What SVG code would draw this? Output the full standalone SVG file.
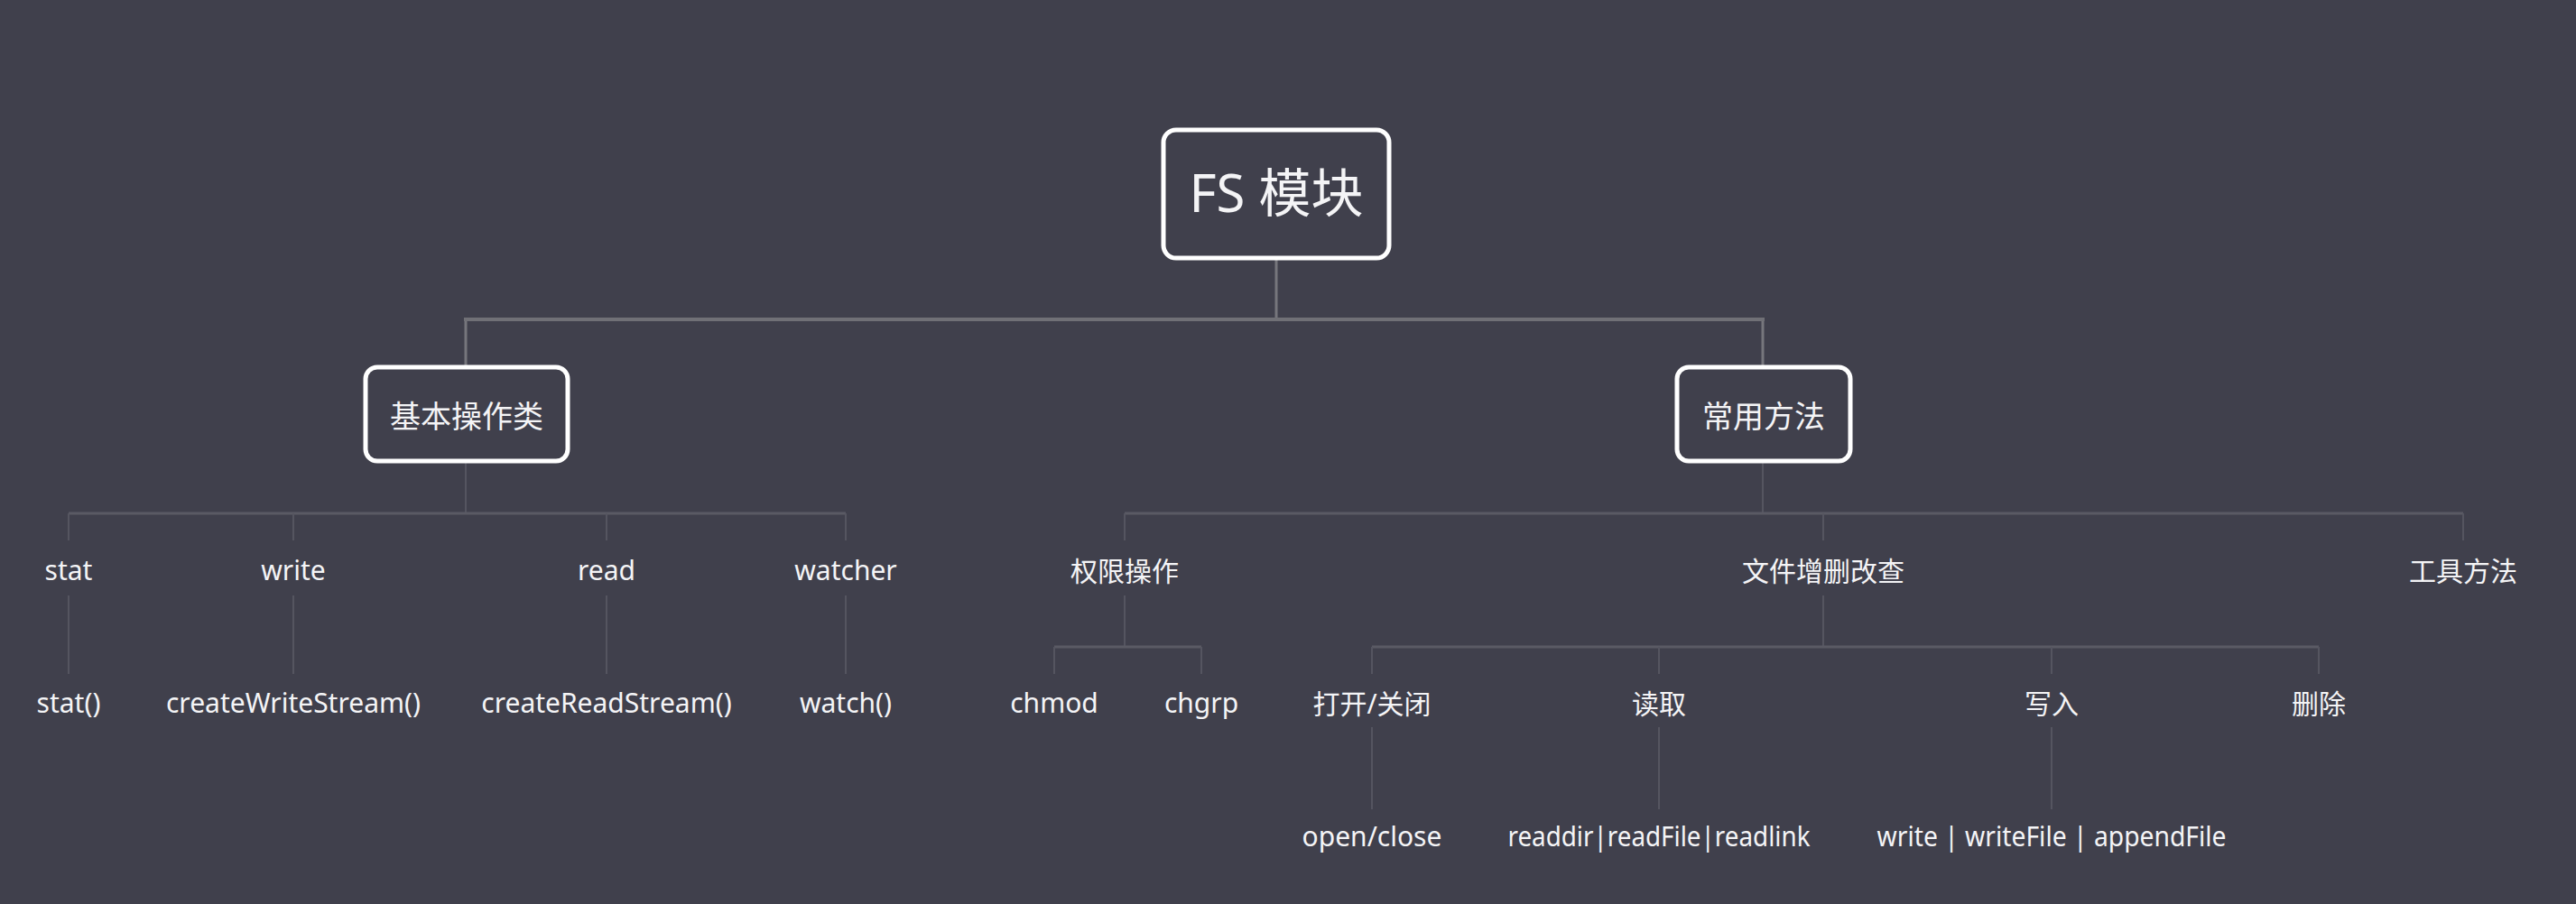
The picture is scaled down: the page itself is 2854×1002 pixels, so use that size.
<svg xmlns="http://www.w3.org/2000/svg" width="2854" height="1002" viewBox="0 0 2854 1002">
<style>
.t{font-family:"Noto Sans","Noto Sans CJK SC",sans-serif;fill:#f4f4f6;text-anchor:middle}
.l2{font-size:30px}
.box{fill:#40404c;stroke:#ffffff;stroke-width:5}
.c1{stroke:#707076;stroke-width:4;fill:none}
.c1v{stroke:#76767c;stroke-width:3;fill:none}
.c2{stroke:#5a5a64;stroke-width:3;fill:none}
.c3{stroke:#555560;stroke-width:2;fill:none}
</style>
<rect width="2854" height="1002" fill="#40404c"/>
<g id="connectors">
<path class="c1v" d="M1414 287V354M516 354V405M1953 354V405"/>
<path class="c1" d="M514 354H1955"/>
<path class="c3" d="M516 512V569M1953 512V569"/>
<path class="c2" d="M76 569H937M1246 569H2729"/>
<path class="c3" d="M76 569V599M325 569V599M672 569V599M937 569V599M1246 569V599M2020 569V599M2729 569V599"/>
<path class="c3" d="M76 660V747M325 660V747M672 660V747M937 660V747"/>
<path class="c3" d="M1246 660V717M2020 660V717"/>
<path class="c2" d="M1168 717H1331M1520 717H2569"/>
<path class="c3" d="M1168 717V747M1331 717V747M1520 717V747M1838 717V747M2273 717V747M2569 717V747"/>
<path class="c3" d="M1520 806V897M1838 806V897M2273 806V897"/>
</g>
<g id="n-fs"><rect class="box" x="1289" y="144" width="250" height="142" rx="14"/><text class="t" x="1414" y="235" font-size="58">FS 模块</text></g>
<g id="n-basic"><rect class="box" x="405" y="407" width="224" height="104" rx="13"/><text class="t" x="517" y="474" font-size="34">基本操作类</text></g>
<g id="n-common"><rect class="box" x="1858" y="407" width="192" height="104" rx="13"/><text class="t" x="1954" y="474" font-size="34">常用方法</text></g>
<g id="n-stat"><text class="t l2" x="76" y="643">stat</text></g>
<g id="n-write"><text class="t l2" x="325" y="643">write</text></g>
<g id="n-read"><text class="t l2" x="672" y="643">read</text></g>
<g id="n-watcher"><text class="t l2" x="937" y="643">watcher</text></g>
<g id="n-perm"><text class="t l2" x="1246" y="644">权限操作</text></g>
<g id="n-crud"><text class="t l2" x="2020" y="644">文件增删改查</text></g>
<g id="n-tools"><text class="t l2" x="2729" y="644">工具方法</text></g>
<g id="n-statfn"><text class="t l2" x="76" y="790">stat()</text></g>
<g id="n-cws"><text class="t l2" x="325" y="790">createWriteStream()</text></g>
<g id="n-crs"><text class="t l2" x="672" y="790">createReadStream()</text></g>
<g id="n-watch"><text class="t l2" x="937" y="790">watch()</text></g>
<g id="n-chmod"><text class="t l2" x="1168" y="790">chmod</text></g>
<g id="n-chgrp"><text class="t l2" x="1331" y="790">chgrp</text></g>
<g id="n-openclose"><text class="t l2" x="1520" y="791">打开/关闭</text></g>
<g id="n-readcat"><text class="t l2" x="1838" y="791">读取</text></g>
<g id="n-writecat"><text class="t l2" x="2273" y="791">写入</text></g>
<g id="n-delete"><text class="t l2" x="2569" y="791">删除</text></g>
<g id="n-oc"><text class="t l2" x="1520" y="938">open/close</text></g>
<g id="n-rd"><text class="t l2" x="1838" y="938" textLength="335" lengthAdjust="spacingAndGlyphs">readdir|readFile|readlink</text></g>
<g id="n-wr"><text class="t l2" x="2273" y="938" textLength="387" lengthAdjust="spacingAndGlyphs">write | writeFile | appendFile</text></g>
</svg>
